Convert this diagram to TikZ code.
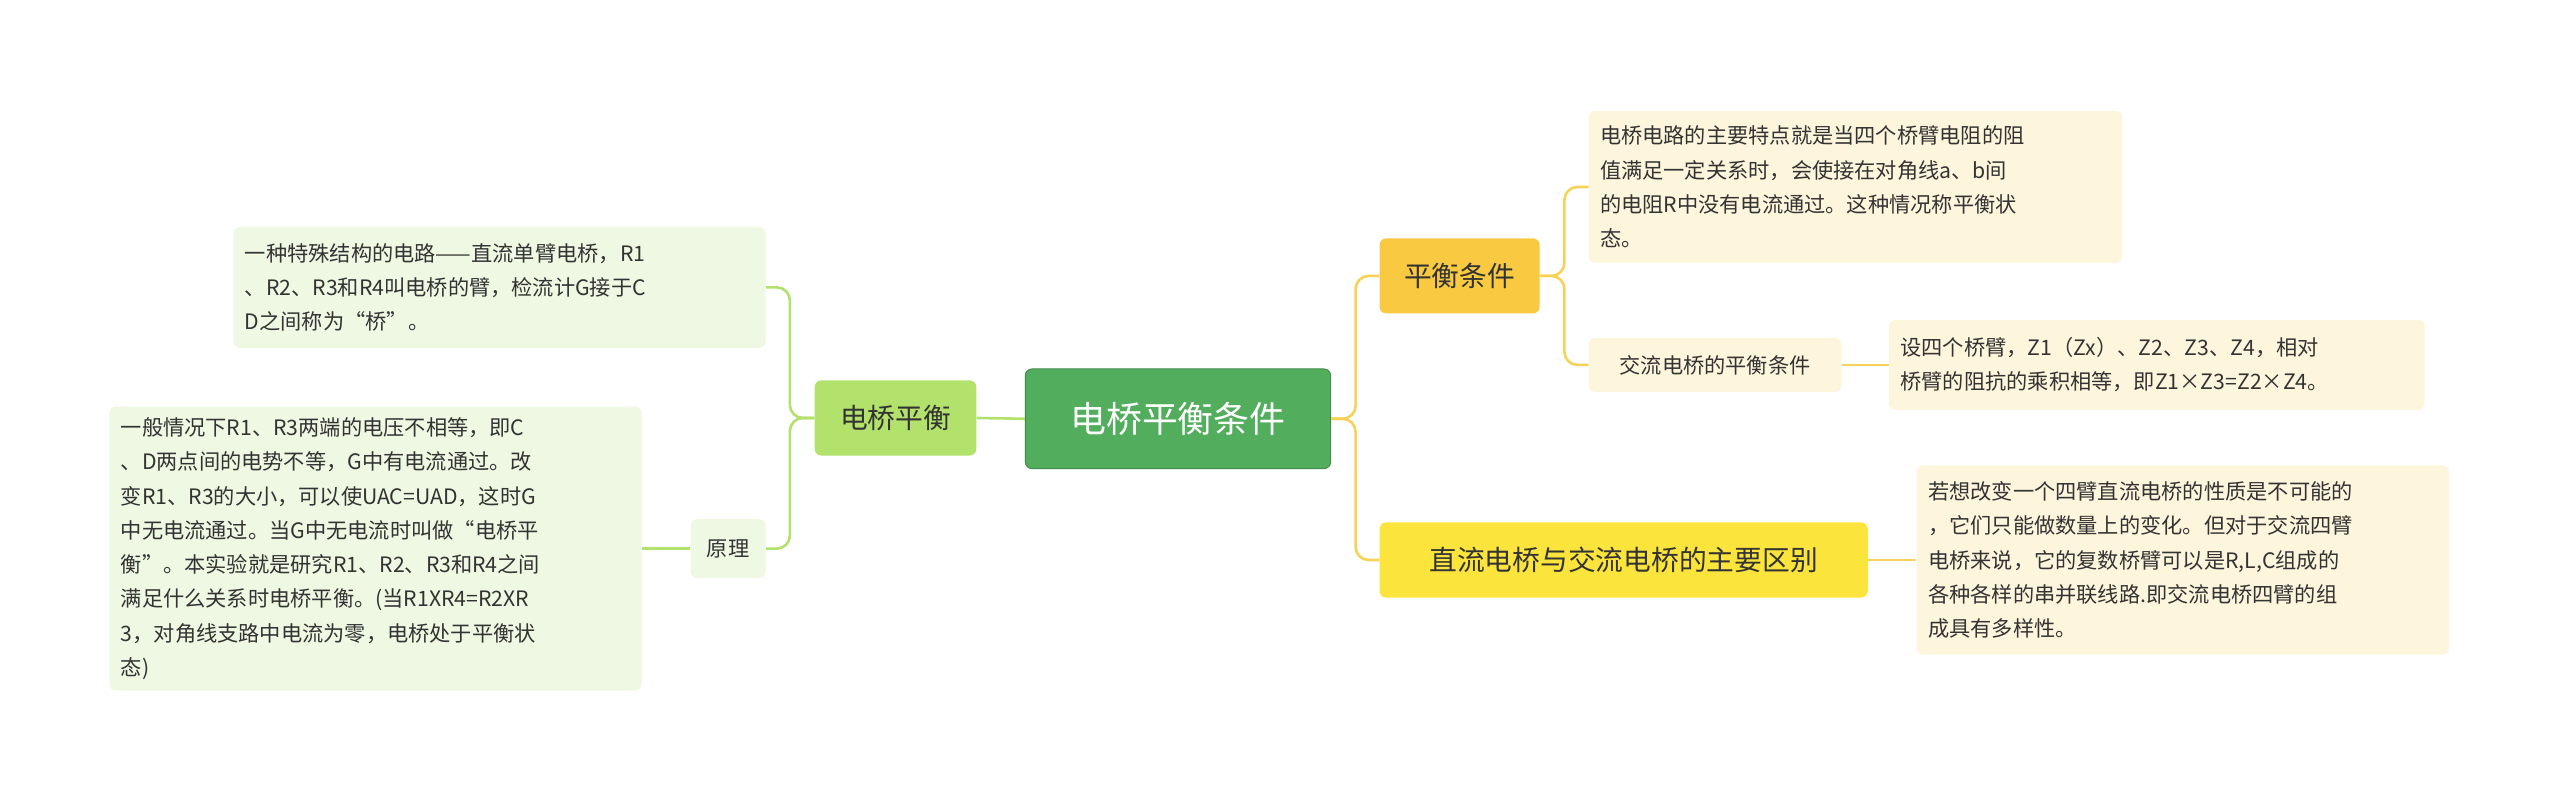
\documentclass[tikz,border=0pt]{standalone}
\usepackage{fontspec}
\setmainfont{Noto Sans CJK SC}
\usetikzlibrary{positioning}
\definecolor{rootgreen}{HTML}{52AE5C}
\definecolor{lime}{HTML}{B3E26C}
\definecolor{limeleaf}{HTML}{EEF8E2}
\definecolor{orangeY}{HTML}{F8C941}
\definecolor{yellowY}{HTML}{FBE43C}
\definecolor{cream}{HTML}{FDF5DC}
\definecolor{lineY}{HTML}{F7D257}
\definecolor{txt}{HTML}{333333}
\tikzset{
  box/.style={rounded corners=4pt, inner sep=0pt, text=txt, align=left},
  leafL/.style={box, fill=limeleaf, font=\fontsize{13}{21}\selectfont},
  leafR/.style={box, fill=cream, font=\fontsize{13}{21}\selectfont},
  wireL/.style={draw=lime, line width=1.6pt, rounded corners=8pt},
  wireR/.style={draw=lineY, line width=1.6pt, rounded corners=8pt}
}
\begin{document}
\begin{tikzpicture}[x=1pt,y=-1pt]
    \useasboundingbox (0,0) rectangle (1568,490.6);

    % centre
    \node[box, fill=rootgreen, draw=rootgreen!80!black, line width=0.6pt, text=white, minimum width=187pt, minimum height=61pt, align=center, font=\fontsize{22}{26}\selectfont] (root) at (721.5,256.5) {电桥平衡条件};

    % left side
    \node[box, fill=lime, minimum width=99pt, minimum height=46pt, align=center, font=\fontsize{17}{20}\selectfont] (bal) at (548.5,256) {电桥平衡};
    \node[leafL, minimum width=326pt, minimum height=74pt, text width=312pt] (def) at (306,176) {一种特殊结构的电路——直流单臂电桥，R1\\、R2、R3和R4叫电桥的臂，检流计G接于C\\D之间称为“桥”。};
    \node[leafL, minimum width=46pt, minimum height=36pt, align=center] (prin) at (446,336) {原理};
    \node[leafL, minimum width=326pt, minimum height=174pt, text width=312pt] (prinText) at (230,336) {一般情况下R1、R3两端的电压不相等，即C\\、D两点间的电势不等，G中有电流通过。改\\变R1、R3的大小，可以使UAC=UAD，这时G\\中无电流通过。当G中无电流时叫做“电桥平\\衡”。本实验就是研究R1、R2、R3和R4之间\\满足什么关系时电桥平衡。(当R1XR4=R2XR\\3，对角线支路中电流为零，电桥处于平衡状\\态)};

    % right side
    \node[box, fill=orangeY, minimum width=98pt, minimum height=46pt, align=center, font=\fontsize{17}{20}\selectfont] (cond) at (894,169) {平衡条件};
    \node[leafR, minimum width=327pt, minimum height=93pt, text width=313pt] (condText) at (1136.5,114.5) {电桥电路的主要特点就是当四个桥臂电阻的阻\\值满足一定关系时，会使接在对角线a、b间\\的电阻R中没有电流通过。这种情况称平衡状\\态。};
    \node[leafR, minimum width=155pt, minimum height=33pt, align=center] (ac) at (1050.5,223.5) {交流电桥的平衡条件};
    \node[leafR, minimum width=328pt, minimum height=55pt, text width=314pt] (acText) at (1321,223.5) {设四个桥臂，Z1（Zx）、Z2、Z3、Z4，相对\\桥臂的阻抗的乘积相等，即Z1×Z3=Z2×Z4。};
    \node[box, fill=yellowY, minimum width=299pt, minimum height=46pt, align=center, font=\fontsize{17}{20}\selectfont] (diff) at (994.5,343) {直流电桥与交流电桥的主要区别};
    \node[leafR, minimum width=326pt, minimum height=116pt, text width=312pt] (diffText) at (1337,343) {若想改变一个四臂直流电桥的性质是不可能的\\，它们只能做数量上的变化。但对于交流四臂\\电桥来说，它的复数桥臂可以是R,L,C组成的\\各种各样的串并联线路.即交流电桥四臂的组\\成具有多样性。};

    % connectors
    \draw[wireL] (root.west) -- (bal.east);
    \draw[wireL] (bal.west) -- ++(-15,0) |- (def.east);
    \draw[wireL] (bal.west) -- ++(-15,0) |- (prin.east);
    \draw[wireL] (prin.west) -- (prinText.east);
    \draw[wireR] (root.east) -- ++(15,0) |- (cond.west);
    \draw[wireR] (root.east) -- ++(15,0) |- (diff.west);
    \draw[wireR] (cond.east) -- ++(15,0) |- (condText.west);
    \draw[wireR] (cond.east) -- ++(15,0) |- (ac.west);
    \draw[wireR] (ac.east) -- (acText.west);
    \draw[wireR] (diff.east) -- (diffText.west);
\end{tikzpicture}
\end{document}
